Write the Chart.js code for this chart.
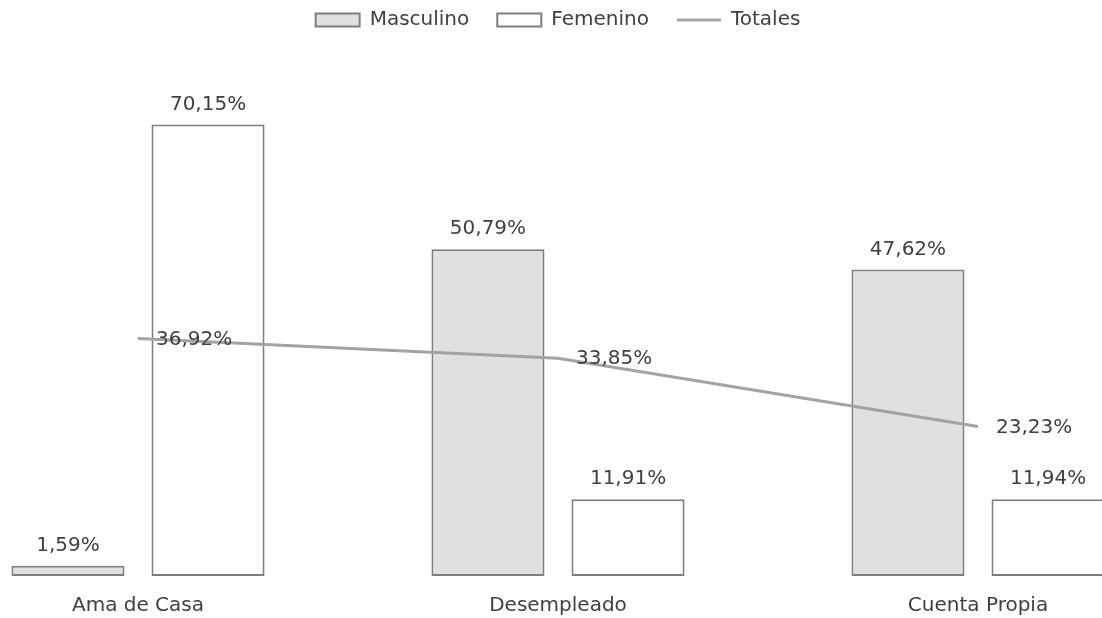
<!DOCTYPE html>
<html>
<head>
<meta charset="utf-8">
<script src="https://cdn.jsdelivr.net/npm/chart.js@4/dist/chart.umd.min.js"></script>
<style>
  html, body { margin: 0; padding: 0; background: #fff; overflow: hidden; }
  #wrap { position: absolute; left: -72px; top: 0; width: 1260px; height: 618px; }
</style>
</head>
<body>
<div id="wrap"><canvas id="grafica" width="1260" height="618"></canvas></div>
<script>
"use strict";

// categorias y valores (en %)
const categorias = ["Ama de Casa", "Desempleado", "Cuenta Propia"];
const masculino = [1.59, 50.79, 47.62];
const femenino = [70.15, 11.91, 11.94];
const totales = [36.92, 33.85, 23.23];

const fmt = v => v.toFixed(2).replace(".", ",") + "%";
const colorTexto = "#404040";
const fuente = "'DejaVu Sans', sans-serif";

// dibuja los valores sobre barras y al lado de la linea
const etiquetasPlugin = {
    id: "etiquetas",
    afterDatasetsDraw(chart) {
        const ctx = chart.ctx;
        ctx.save();
        ctx.font = "20px " + fuente;
        ctx.fillStyle = colorTexto;
        chart.data.datasets.forEach((ds, i) => {
            const meta = chart.getDatasetMeta(i);
            meta.data.forEach((el, j) => {
                const txt = fmt(ds.data[j]);
                if (ds.type === "line") {
                    ctx.textAlign = "left";
                    ctx.textBaseline = "middle";
                    ctx.fillText(txt, el.x + 18, el.y + 1);
                } else {
                    ctx.textAlign = "center";
                    ctx.textBaseline = "alphabetic";
                    ctx.fillText(txt, el.x, el.y - 15);
                }
            });
        });
        ctx.restore();
    }
};

const ctx = document.getElementById("grafica").getContext("2d");
new Chart(ctx, {
    type: "bar",
    data: {
        labels: categorias,
        datasets: [
            {
                label: "Masculino",
                data: masculino,
                backgroundColor: "#e0e0e0",
                borderColor: "#7f7f7f",
                borderWidth: 2,
                borderSkipped: false,
                order: 2
            },
            {
                label: "Femenino",
                data: femenino,
                backgroundColor: "#ffffff",
                borderColor: "#7f7f7f",
                borderWidth: 2,
                borderSkipped: false,
                order: 2
            },
            {
                type: "line",
                label: "Totales",
                data: totales,
                borderColor: "#a3a3a3",
                backgroundColor: "#a3a3a3",
                borderWidth: 3,
                pointRadius: 0,
                tension: 0,
                fill: false,
                order: 1
            }
        ]
    },
    options: {
        responsive: false,
        animation: false,
        categoryPercentage: 0.667,
        barPercentage: 0.807,
        layout: { padding: { top: -18, bottom: -18, left: 0, right: 0 } },
        plugins: {
            tooltip: { enabled: false },
            legend: {
                position: "top",
                labels: {
                    font: { family: fuente, size: 20 },
                    color: colorTexto,
                    usePointStyle: true,
                    pointStyleWidth: 44,
                    boxHeight: 13,
                    padding: 28,
                    sort: (a, b) => a.datasetIndex - b.datasetIndex,
                    generateLabels(chart) {
                        const items = Chart.defaults.plugins.legend.labels.generateLabels(chart);
                        items.forEach(it => {
                            const ds = chart.data.datasets[it.datasetIndex];
                            it.pointStyle = ds.type === "line" ? "line" : "rect";
                            it.lineWidth = ds.type === "line" ? 3 : 2;
                        });
                        return items;
                    }
                }
            }
        },
        scales: {
            x: {
                grid: { display: false, drawTicks: false },
                border: { display: false },
                ticks: { font: { family: fuente, size: 20 }, color: colorTexto, padding: 18 }
            },
            y: {
                display: false,
                min: 0,
                max: 83.3
            }
        }
    },
    plugins: [etiquetasPlugin]
});
</script>
</body>
</html>
